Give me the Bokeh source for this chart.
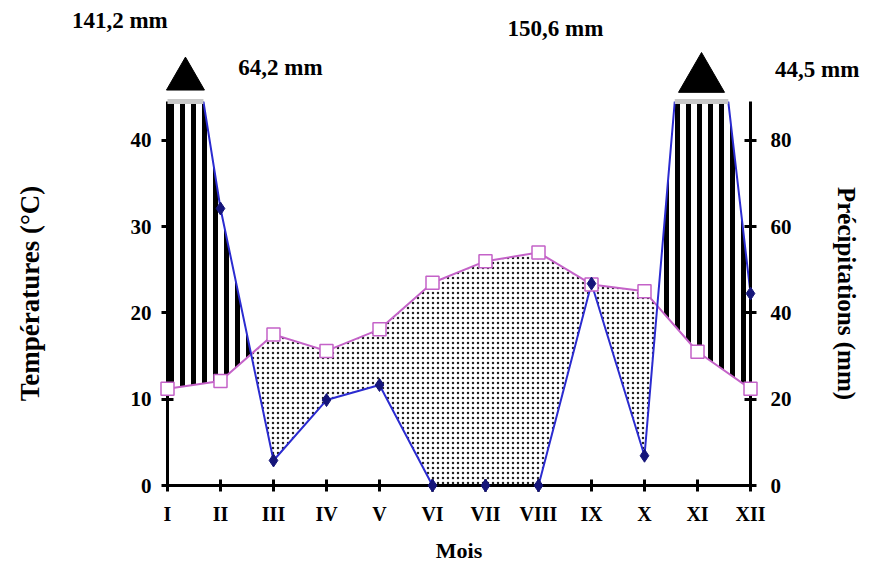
import numpy as np
from bokeh.plotting import figure
from bokeh.models import Range1d, LinearAxis, FixedTicker, ColumnDataSource
from bokeh.core.properties import value
from bokeh.embed import file_html
from bokeh.resources import INLINE

# ---- data ----
months = [1, 2, 3, 4, 5, 6, 7, 8, 9, 10, 11, 12]
month_labels = ["I", "II", "III", "IV", "V", "VI", "VII", "VIII", "IX", "X", "XI", "XII"]
temperature = [11.2, 12.1, 17.5, 15.6, 18.1, 23.5, 26.0, 27.0, 23.3, 22.5, 15.5, 11.2]   # °C
precipitation = [141.2, 64.2, 5.8, 19.8, 23.3, 0.0, 0.0, 0.0, 46.8, 6.9, 150.6, 44.5]  # mm
temp_ticks = [0, 10, 20, 30, 40]
precip_ticks = [0, 20, 40, 60, 80]
labelled_months = [1, 2, 11, 12]

T_MAX = 44.5
P_MAX = 2 * T_MAX

FONT = "Liberation Serif"
TEMP_COLOR = "#c462c8"
PREC_COLOR = "#2b2bd0"
DIAM_COLOR = "#15157a"

m = np.array(months, dtype=float)
T = np.array(temperature)
P = np.array(precipitation)
T2 = 2 * T

p = figure(width=863, height=565, x_range=Range1d(1, 12), y_range=Range1d(0, T_MAX),
           output_backend="svg", toolbar_location=None,
           min_border_left=167, min_border_right=113, min_border_top=101, min_border_bottom=78)
p.extra_y_ranges = {"prec": Range1d(0, P_MAX)}
p.xgrid.visible = False
p.ygrid.visible = False
p.outline_line_color = None
p.background_fill_color = "white"

# ---- dry / humid areas (derived from the two curves) ----
xs = np.union1d(np.linspace(1, 12, 2201), m)
pi = np.interp(xs, m, P)
ti = np.interp(xs, m, T2)
p.varea(x=xs, y1=np.minimum(pi, ti), y2=ti, y_range_name="prec",
        fill_alpha=0, hatch_pattern="dot", hatch_scale=5, hatch_weight=2,
        hatch_color="#222222")
p.varea(x=xs, y1=ti, y2=np.maximum(pi, ti), y_range_name="prec",
        fill_alpha=0, hatch_pattern="vertical_line", hatch_scale=11, hatch_weight=5,
        hatch_color="black")

# ---- temperature ----
p.line(m, T, line_color=TEMP_COLOR, line_width=2)
p.scatter(m, T, marker="square", size=13, fill_color="white", line_color=TEMP_COLOR,
          line_width=1.5, level="overlay")

# ---- precipitation ----
p.line(m, P, line_color=PREC_COLOR, line_width=2, y_range_name="prec")
inside = P <= P_MAX
p.scatter(m[inside], P[inside], marker="diamond", size=13, fill_color=DIAM_COLOR,
          line_color=DIAM_COLOR, y_range_name="prec", level="overlay")

# ---- off-scale markers ----
bar_x0, bar_x1, tri_x = [], [], []
for i in range(len(m)):
    if P[i] > P_MAX:
        xa = m[i] if i == 0 else m[i - 1] + (P_MAX - P[i - 1]) / (P[i] - P[i - 1])
        xb = m[i] if i == len(m) - 1 else m[i] + (P[i] - P_MAX) / (P[i] - P[i + 1])
        bar_x0.append(xa)
        bar_x1.append(xb)
        tri_x.append((xa + xb) / 2)
p.segment(x0=bar_x0, y0=[P_MAX] * len(bar_x0), x1=bar_x1, y1=[P_MAX] * len(bar_x0),
          line_color="#c8c8c8", line_width=5, y_range_name="prec", level="overlay")
p.scatter(tri_x, [P_MAX + 5.2] * len(tri_x), marker="triangle", size=[38, 46][:len(tri_x)],
          fill_color="black", line_color="black", y_range_name="prec", level="overlay")

# ---- value labels ----
dx = {1: -0.9, 2: 1.13, 11: -2.68, 12: 1.26}
dy = {1: 18.8, 2: 7.8, 11: 17.0, 12: 7.4}
lab_src = ColumnDataSource(dict(
    x=[mo + dx[mo] for mo in labelled_months],
    y=[P_MAX + dy[mo] for mo in labelled_months],
    t=[f"{P[months.index(mo)]:.1f} mm".replace(".", ",") for mo in labelled_months],
))
p.text(x="x", y="y", text="t", source=lab_src, y_range_name="prec", level="overlay",
       text_font=value(FONT), text_font_style="bold", text_font_size="23px",
       text_align="center", text_baseline="middle", text_color="black")

# ---- axes ----
def style_axis(ax, tick_size="21px"):
    ax.axis_line_width = 3
    ax.axis_line_color = "black"
    ax.major_tick_line_width = 3
    ax.major_tick_line_color = "black"
    ax.major_tick_in = 6
    ax.major_tick_out = 6
    ax.minor_tick_line_color = None
    ax.major_label_text_font = FONT
    ax.major_label_text_font_style = "bold"
    ax.major_label_text_font_size = tick_size
    ax.major_label_text_color = "black"
    ax.axis_label_text_font = FONT
    ax.axis_label_text_font_style = "bold"
    ax.axis_label_text_font_size = "27px"
    ax.axis_label_text_color = "black"

xa_ = p.xaxis[0]
style_axis(xa_, "20px")
xa_.ticker = FixedTicker(ticks=months)
xa_.major_label_overrides = {mo: lab for mo, lab in zip(months, month_labels)}
xa_.axis_label = "Mois"
xa_.axis_label_text_font_size = "22px"
xa_.major_label_standoff = 11
xa_.axis_label_standoff = 10

ya = p.yaxis[0]
style_axis(ya)
ya.ticker = FixedTicker(ticks=temp_ticks)
ya.axis_label = "Températures (°C)"
ya.major_label_standoff = 10
ya.axis_label_standoff = 83

ra = LinearAxis(y_range_name="prec", ticker=FixedTicker(ticks=precip_ticks),
                axis_label="Précipitations (mm)")
style_axis(ra)
ra.axis_label_text_font_size = "25px"
ra.major_label_standoff = 14
ra.axis_label_standoff = 38
p.add_layout(ra, "right")

open("out.html", "w").write(file_html(p, INLINE))
